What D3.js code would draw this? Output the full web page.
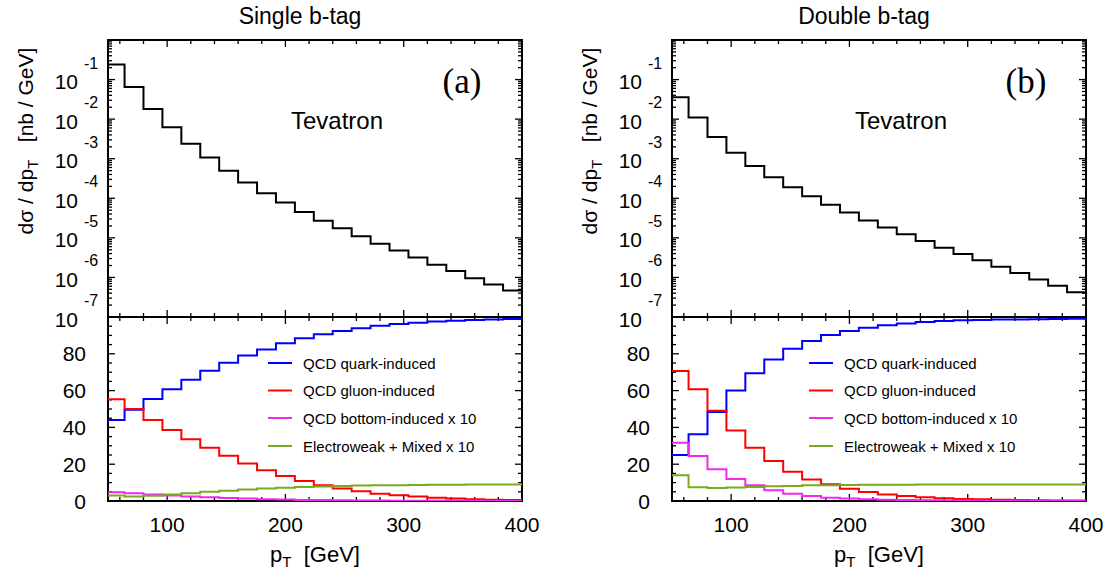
<!DOCTYPE html>
<html><head><meta charset="utf-8">
<script src="https://cdn.jsdelivr.net/npm/d3@7"></script>
<style>
body{margin:0;background:#fff}
text{font-family:"Liberation Sans",Arial,Helvetica,sans-serif;fill:#000}
</style>
</head><body><svg id="c" width="1109" height="576"></svg>
<script>
// ---------------- data ----------------
const binEdges = [48,64,80,96,112,128,144,160,176,192,208,224,240,256,272,288,304,320,336,352,368,384,400];
const xTickLabels = [100,200,300,400];
const logTickExponents = [-1,-2,-3,-4,-5,-6,-7];
const fracTickLabels = [0,20,40,60,80];
const panelTitles = ["Single b-tag","Double b-tag"];
const panelTags = ["(a)","(b)"];
const legendLabels = ["QCD quark-induced","QCD gluon-induced","QCD bottom-induced x 10","Electroweak + Mixed x 10"];
const seriesColors = ["#0000ff","#ff0000","#f028f0","#7aab1e"];

// d sigma / d pT [nb/GeV]
const singleTotal = [2.4e-1,6.5e-2,1.8e-2,6.2e-3,2.4e-3,1.07e-3,5.0e-4,2.5e-4,1.35e-4,7.8e-5,4.5e-5,2.7e-5,1.74e-5,1.1e-5,7.1e-6,4.8e-6,3.2e-6,2.1e-6,1.45e-6,9.5e-7,6.6e-7,4.7e-7];
const doubleTotal = [3.6e-2,1.1e-2,3.55e-3,1.41e-3,6.5e-4,3.4e-4,1.9e-4,1.12e-4,6.9e-5,4.4e-5,2.75e-5,1.82e-5,1.23e-5,8.3e-6,5.6e-6,3.9e-6,2.7e-6,1.86e-6,1.29e-6,8.9e-7,6.2e-7,4.2e-7];

// fractions [%]
const singleQuark  = [44.0,49.6,55.5,60.8,65.9,70.8,75.1,79.1,82.4,85.7,88.4,90.6,92.4,93.9,95.2,96.2,96.9,97.6,98.0,98.4,98.7,98.9];
const singleGluon  = [55.3,50.0,44.0,38.6,33.6,28.9,24.6,20.4,16.7,13.6,10.9,8.6,6.8,5.3,4.0,3.1,2.4,1.8,1.3,0.9,0.7,0.5];
const singleBottom = [4.8,4.2,3.6,3.0,2.5,2.0,1.6,1.3,1.0,0.8,0.6,0.5,0.4,0.3,0.25,0.2,0.15,0.12,0.1,0.08,0.06,0.05];
const singleEW     = [3.0,2.4,2.8,3.5,4.2,5.0,5.6,6.2,6.8,7.2,7.6,7.9,8.2,8.4,8.5,8.6,8.7,8.8,8.8,8.9,8.9,9.0];

const doubleQuark  = [25.0,36.3,48.4,60.1,69.4,76.9,82.7,86.9,90.2,92.4,94.1,95.5,96.5,97.3,97.8,98.2,98.4,98.6,98.7,98.8,98.9,99.0];
const doubleGluon  = [70.6,60.8,49.0,38.3,29.0,21.7,15.9,11.7,9.1,6.7,4.9,3.6,2.7,2.0,1.5,1.1,0.9,0.7,0.5,0.4,0.3,0.25];
const doubleBottom = [31.6,24.4,17.3,12.0,8.5,5.8,4.0,2.7,1.8,1.3,0.9,0.7,0.5,0.4,0.3,0.25,0.2,0.15,0.12,0.1,0.08,0.06];
const doubleEW     = [14.0,7.5,7.1,7.3,7.6,8.0,8.2,8.5,8.6,8.7,8.8,8.8,8.8,8.9,8.9,8.9,8.9,8.9,8.9,8.9,8.9,8.9];

// ---------------- layout ----------------
const svg = d3.select("#c");
const TOP = 40, MID = 317, BOT = 501;
const panels = [
  {x0:108, x1:522, total:singleTotal, series:[singleQuark,singleGluon,singleBottom,singleEW], title:panelTitles[0], tag:panelTags[0], titleX:300, legX:160},
  {x0:672, x1:1086, total:doubleTotal, series:[doubleQuark,doubleGluon,doubleBottom,doubleEW], title:panelTitles[1], tag:panelTags[1], titleX:864, legX:137}
];

function stepPoints(vals){
  const pts = vals.map((v,i)=>[binEdges[i], v]);
  pts.push([binEdges[binEdges.length-1], vals[vals.length-1]]);
  return pts;
}

panels.forEach((p,pi)=>{
  const g = svg.append("g");
  const x = d3.scaleLinear().domain([50,400]).range([p.x0,p.x1]);
  const yL = d3.scaleLog().domain([1e-7,1]).range([MID,TOP]);
  const yF = d3.scaleLinear().domain([0,100]).range([BOT,MID]);

  const clipU = "clipU"+pi, clipL = "clipL"+pi;
  const defs = svg.append("defs");
  defs.append("clipPath").attr("id",clipU).append("rect")
    .attr("x",p.x0).attr("y",TOP).attr("width",p.x1-p.x0).attr("height",MID-TOP);
  defs.append("clipPath").attr("id",clipL).append("rect")
    .attr("x",p.x0).attr("y",MID).attr("width",p.x1-p.x0).attr("height",BOT-MID);

  // ticks
  const tk = g.append("g").attr("stroke","#000").attr("stroke-width",1.3);
  const xMajor = xTickLabels, xMinor = d3.range(60,400,20).filter(v=>v%100!==0);
  const tick = (x1,y1,x2,y2)=>tk.append("line").attr("x1",x1).attr("y1",y1).attr("x2",x2).attr("y2",y2);
  [[TOP,1],[MID,-1],[MID,1],[BOT,-1]].forEach(([yy,dir])=>{
    xMajor.forEach(v=>tick(x(v),yy,x(v),yy+dir*7));
    xMinor.forEach(v=>tick(x(v),yy,x(v),yy+dir*4));
  });
  // log y ticks
  for(let e=-7;e<=-1;e++){
    for(let m=1;m<=9;m++){
      const v = m*Math.pow(10,e);
      const len = m===1?7:4;
      if(m===1 && e===-7) continue;
      tick(p.x0,yL(v),p.x0+len,yL(v));
      tick(p.x1,yL(v),p.x1-len,yL(v));
    }
  }
  // fraction y ticks
  d3.range(5,100,5).forEach(v=>{
    const len = v%20===0?7:4;
    tick(p.x0,yF(v),p.x0+len,yF(v));
    tick(p.x1,yF(v),p.x1-len,yF(v));
  });

  // frames
  g.append("rect").attr("x",p.x0).attr("y",TOP).attr("width",p.x1-p.x0).attr("height",MID-TOP)
    .attr("fill","none").attr("stroke","#000").attr("stroke-width",2);
  g.append("rect").attr("x",p.x0).attr("y",MID).attr("width",p.x1-p.x0).attr("height",BOT-MID)
    .attr("fill","none").attr("stroke","#000").attr("stroke-width",2);

  // upper curve
  const lineU = d3.line().x(d=>x(d[0])).y(d=>yL(d[1])).curve(d3.curveStepAfter);
  g.append("path").attr("clip-path",`url(#${clipU})`).attr("d",lineU(stepPoints(p.total)))
    .attr("fill","none").attr("stroke","#000").attr("stroke-width",2);

  // lower curves
  const lineL = d3.line().x(d=>x(d[0])).y(d=>yF(d[1])).curve(d3.curveStepAfter);
  p.series.forEach((s,si)=>{
    g.append("path").attr("clip-path",`url(#${clipL})`).attr("d",lineL(stepPoints(s)))
      .attr("fill","none").attr("stroke",seriesColors[si]).attr("stroke-width",2);
  });

  // legend
  const legRows = [363,390.5,418,446];
  legendLabels.forEach((lab,i)=>{
    g.append("line").attr("x1",p.x0+p.legX).attr("x2",p.x0+p.legX+24)
      .attr("y1",legRows[i]).attr("y2",legRows[i]).attr("stroke",seriesColors[i]).attr("stroke-width",2);
    g.append("text").attr("x",p.x0+p.legX+35).attr("y",legRows[i]+5.5)
      .attr("font-size",15).text(lab);
  });

  // x tick labels
  xTickLabels.forEach(v=>{
    g.append("text").attr("x",x(v)).attr("y",532).attr("text-anchor","middle")
      .attr("font-size",21).text(v);
  });
  // fraction tick labels
  fracTickLabels.forEach(v=>{
    g.append("text").attr("x",p.x0-22).attr("y",yF(v)+7.5).attr("text-anchor","end")
      .attr("font-size",21).text(v);
  });
  // log tick labels
  logTickExponents.forEach(e=>{
    const yy = yL(Math.pow(10,e));
    g.append("text").attr("x",p.x0-30).attr("y",yy+9.5).attr("text-anchor","end")
      .attr("font-size",21).text("10");
    g.append("text").attr("x",p.x0-24).attr("y",yy-11).attr("text-anchor","start")
      .attr("font-size",16).text(String(e));
  });

  // axis titles
  const yt = g.append("text").attr("transform",`translate(${p.x0-75},141) rotate(-90)`)
    .attr("text-anchor","middle").attr("font-size",21);
  yt.append("tspan").text("dσ / dp");
  yt.append("tspan").attr("font-size",15).attr("dy",5).text("T");
  yt.append("tspan").attr("dy",-5).text("\u00a0\u00a0\u00a0[nb / GeV]");

  const xt = g.append("text").attr("x",(p.x0+p.x1)/2).attr("y",562)
    .attr("text-anchor","middle").attr("font-size",22);
  xt.append("tspan").text("p");
  xt.append("tspan").attr("font-size",15).attr("dy",5).text("T");
  xt.append("tspan").attr("dy",-5).text("\u00a0\u00a0[GeV]");

  // titles / annotations
  g.append("text").attr("x",p.titleX).attr("y",24).attr("text-anchor","middle")
    .attr("font-size",23).text(p.title);
  g.append("text").attr("x",p.x0+229).attr("y",129).attr("text-anchor","middle")
    .attr("font-size",24).text("Tevatron");
  g.append("text").attr("x",p.x0+354).attr("y",93).attr("text-anchor","middle")
    .attr("font-size",35).style("font-family","'Liberation Serif','Times New Roman',serif").text(p.tag);
});
</script>
</body></html>
